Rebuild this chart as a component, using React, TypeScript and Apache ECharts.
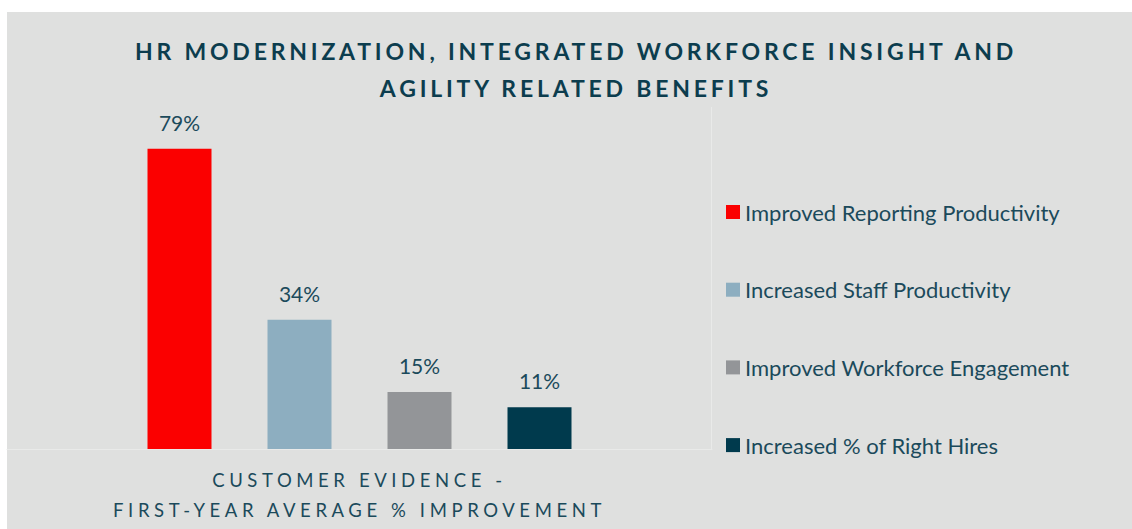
import React, { useEffect, useRef } from "react";
import * as echarts from "echarts";

const titleLines = ["HR MODERNIZATION, INTEGRATED WORKFORCE INSIGHT AND", "AGILITY RELATED BENEFITS"];
const categoryLabel = "CUSTOMER EVIDENCE -\nFIRST-YEAR AVERAGE % IMPROVEMENT";
const seriesNames = [
  "Improved Reporting Productivity",
  "Increased Staff Productivity",
  "Improved Workforce Engagement",
  "Increased % of Right Hires",
];
const seriesValues = [79, 34, 15, 11];
const seriesColors = ["#fb0000", "#8daec0", "#939598", "#003a4d"];

const TITLE_COLOR = "#0c3d4e";
const TEXT_COLOR = "#1b4a5b";

export default function App() {
  const ref = useRef<HTMLDivElement>(null);
  useEffect(() => {
    if (!ref.current) return;
    const chart = echarts.init(ref.current, undefined, { renderer: "svg" });
    chart.setOption({
      animation: false,
      backgroundColor: "#ffffff",
      graphic: [
        {
          type: "rect",
          z: -10,
          silent: true,
          shape: { x: 7, y: 12, width: 1125, height: 517 },
          style: { fill: "#dfe0df" },
        },
        {
          type: "line",
          silent: true,
          shape: { x1: 711.5, y1: 107, x2: 711.5, y2: 449 },
          style: { stroke: "#e9eae9", lineWidth: 1 },
        },
        {
          type: "text",
          x: 576,
          y: 69,
          style: {
            text: titleLines.join("\n"),
            align: "center",
            verticalAlign: "middle",
            fontFamily: "Lato, Arial",
            fontWeight: "bold",
            fontSize: 23,
            lineHeight: 37,
            fill: TITLE_COLOR,
          },
        },
      ],
      legend: {
        orient: "vertical",
        left: 721,
        top: 196,
        padding: 5,
        itemWidth: 14,
        itemHeight: 14,
        itemGap: 55.7,
        icon: "rect",
        data: seriesNames,
        textStyle: {
          fontFamily: "Lato",
          fontSize: 22,
          lineHeight: 20,
          color: TEXT_COLOR,
        },
      },
      grid: { left: 7, top: 107, width: 705, height: 342 },
      xAxis: {
        type: "category",
        data: [categoryLabel],
        axisTick: { show: false },
        axisLine: { show: true, lineStyle: { color: "#e9eae9", width: 1 } },
        axisLabel: {
          margin: 16,
          fontFamily: "Lato, Verdana",
          fontSize: 18.5,
          lineHeight: 30,
          color: TEXT_COLOR,
        },
      },
      yAxis: {
        type: "value",
        min: 0,
        max: 90,
        show: false,
        splitLine: { show: false },
      },
      series: seriesNames.map((name, i) => ({
        name,
        type: "bar",
        barWidth: 64,
        barGap: "87.5%",
        data: [seriesValues[i]],
        itemStyle: { color: seriesColors[i] },
        label: {
          show: true,
          position: "top",
          distance: 16,
          formatter: "{c}%",
          fontFamily: "Lato",
          fontSize: 21,
          color: TEXT_COLOR,
        },
      })),
    });
    return () => chart.dispose();
  }, []);
  return (
    <>
      <style>{`
        #root svg text[style*="Lato, Arial"] { letter-spacing: 3.8px; }
        #root svg text[style*="Lato, Verdana"] { letter-spacing: 4.6px; }
      `}</style>
      <div
        ref={ref}
        style={{ position: "fixed", left: 0, top: 0, width: 1132, height: 529 }}
      />
    </>
  );
}
